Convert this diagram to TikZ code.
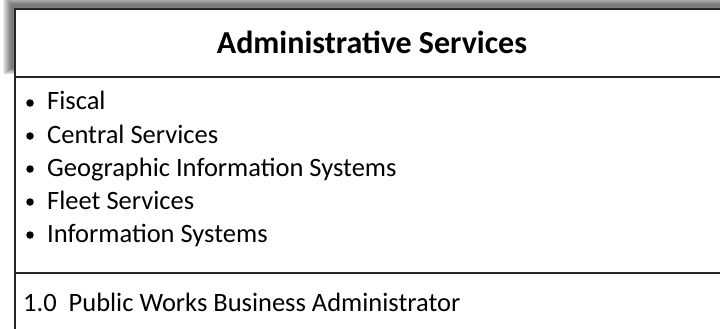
\documentclass[tikz,border=0pt]{standalone}
\usepackage{fontspec}
\setmainfont{Carlito}
\usetikzlibrary{calc}

\begin{document}
\begin{tikzpicture}[x=1pt,y=-1pt,
    cell/.style={draw=black!85, line width=1.4pt, fill=white},
    head/.style={anchor=base, font=\fontsize{32}{38}\selectfont\bfseries, inner sep=0pt},
    item/.style={anchor=base west, inner sep=0pt, font=\fontsize{26.5}{32}\selectfont},
    dot/.style={circle, fill=black, inner sep=0pt, minimum size=7.5pt}]
  \useasboundingbox (0,0) rectangle (720,329);
  \coordinate (TL) at (15,9);
  \coordinate (BR) at (760,345);
  \coordinate (H) at (15,77);
  \coordinate (F) at (15,273);
  % soft shadow of the heading cell
  \foreach \i in {1,...,9}
    \fill[black, opacity=0.08] ($(TL)+(-3.5-\i*0.9,-4.5-\i*0.9)$) rectangle (760,{68+\i*0.7});
  \draw[cell] (TL) rectangle (BR);
  \draw[cell] (H) -- (H -| BR);
  \draw[cell] (F) -- (F -| BR);
  \node[head] (title) at (372,54) {Administrative Services};
  % list
  \foreach \t [count=\k] in {Fiscal, Central Services, Geographic Information Systems,
      Fleet Services, Information Systems} {
    \node[item] (s\k) at (47,{110+(\k-1)*33}) {\t};
    \node[dot] (b\k) at (30,{103+(\k-1)*33}) {};
  }
  \node[item] (num) at (23,311) {1.0\hspace{0.45em}Public Works Business Administrator};
\end{tikzpicture}
\end{document}
